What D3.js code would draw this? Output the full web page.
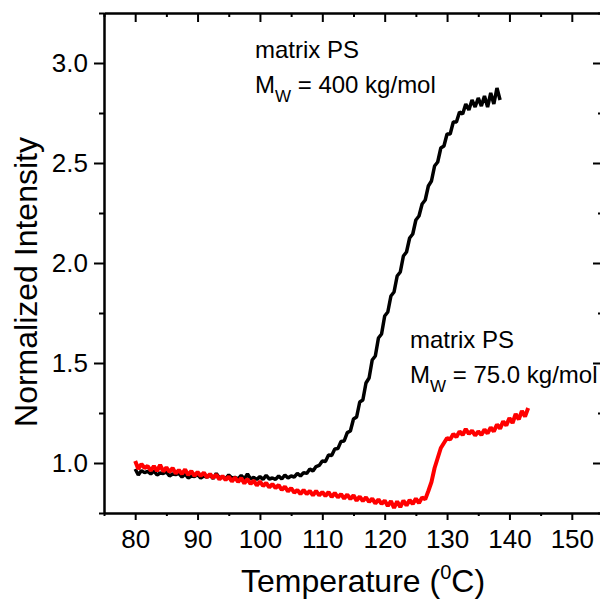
<!DOCTYPE html>
<html>
<head>
<meta charset="utf-8">
<script src="https://cdn.jsdelivr.net/npm/d3@7"></script>
<style>
  body { margin: 0; background: #fff; }
  svg text { font-family: "Liberation Sans", Arial, sans-serif; fill: #000; }
</style>
</head>
<body>
<div id="chart"></div>
<script>
// tick values
const xMajor = [80, 90, 100, 110, 120, 130, 140, 150];
const xMinor = [75, 85, 95, 105, 115, 125, 135, 145, 155];
const yMajor = [1.0, 1.5, 2.0, 2.5, 3.0];
const yMinor = [0.75, 1.25, 1.75, 2.25, 2.75, 3.25];

// matrix PS, Mw = 400 kg/mol  [temperature, normalized intensity]
const black400 = [
  [80,0.97],[80.5,0.94],[81,0.962],[81.5,0.952],[82,0.958],[82.5,0.945],[83,0.96],[83.5,0.94],
  [84,0.95],[84.5,0.948],[85,0.955],[85.5,0.935],[86,0.945],[86.5,0.942],[87,0.948],[87.5,0.93],
  [88,0.945],[88.5,0.925],[89,0.935],[89.5,0.932],[90,0.942],[90.5,0.925],[91,0.935],[91.5,0.93],
  [92,0.94],[92.5,0.922],[93,0.948],[93.5,0.925],[94,0.93],[94.5,0.922],[95,0.94],[95.5,0.925],
  [96,0.928],[96.5,0.92],[97,0.938],[97.5,0.92],[98,0.945],[98.5,0.92],[99,0.928],[99.5,0.918],
  [100,0.932],[100.5,0.918],[101,0.938],[101.5,0.92],[102,0.925],[102.5,0.918],[103,0.935],[103.5,0.92],
  [104,0.94],[104.5,0.925],[105,0.935],[105.5,0.93],[106,0.948],[106.5,0.935],[107,0.952],[107.5,0.948],
  [108,0.97],[108.5,0.96],[109,0.982],[109.5,0.988],[110,1.01],[110.5,1.008],[111,1.04],[111.5,1.038],
  [112,1.07],[112.5,1.072],[113,1.108],[113.5,1.11],[114,1.152],[114.5,1.16],[115,1.22],[115.5,1.23],
  [116,1.305],[116.5,1.315],[117,1.40],[117.5,1.425],[118,1.515],[118.5,1.535],[119,1.625],[119.5,1.645],
  [120,1.735],[120.5,1.755],[121,1.835],[121.5,1.855],[122,1.935],[122.5,1.955],[123,2.035],[123.5,2.055],
  [124,2.125],[124.5,2.145],[125,2.215],[125.5,2.235],[126,2.295],[126.5,2.315],[127,2.385],[127.5,2.41],
  [128,2.485],[128.5,2.505],[129,2.575],[129.5,2.585],[130,2.645],[130.5,2.645],[131,2.705],[131.5,2.705],
  [132,2.755],[132.5,2.745],[133,2.795],[133.5,2.765],[134,2.815],[134.5,2.78],[135,2.825],[135.5,2.785],
  [136,2.835],[136.5,2.78],[137,2.85],[137.5,2.795],[138,2.875],[138.5,2.815]
];

// matrix PS, Mw = 75.0 kg/mol
const red75 = [
  [80,1.01],[80.5,0.97],[81,0.995],[81.5,0.975],[82,0.985],[82.5,0.962],[83,0.985],[83.5,0.96],
  [84,0.99],[84.5,0.958],[85,0.978],[85.5,0.955],[86,0.975],[86.5,0.948],[87,0.965],[87.5,0.945],
  [88,0.968],[88.5,0.94],[89,0.96],[89.5,0.935],[90,0.955],[90.5,0.935],[91,0.952],[91.5,0.928],
  [92,0.945],[92.5,0.925],[93,0.942],[93.5,0.918],[94,0.935],[94.5,0.915],[95,0.932],[95.5,0.908],
  [96,0.928],[96.5,0.905],[97,0.925],[97.5,0.898],[98,0.92],[98.5,0.895],[99,0.912],[99.5,0.888],
  [100,0.908],[100.5,0.885],[101,0.9],[101.5,0.878],[102,0.895],[102.5,0.875],[103,0.89],[103.5,0.865],
  [104,0.882],[104.5,0.858],[105,0.875],[105.5,0.852],[106,0.865],[106.5,0.845],[107,0.865],[107.5,0.845],
  [108,0.86],[108.5,0.838],[109,0.86],[109.5,0.838],[110,0.855],[110.5,0.835],[111,0.855],[111.5,0.83],
  [112,0.85],[112.5,0.828],[113,0.845],[113.5,0.822],[114,0.842],[114.5,0.82],[115,0.838],[115.5,0.812],
  [116,0.832],[116.5,0.81],[117,0.828],[117.5,0.805],[118,0.822],[118.5,0.798],[119,0.818],[119.5,0.795],
  [120,0.812],[120.5,0.785],[121,0.81],[121.5,0.775],[122,0.808],[122.5,0.78],[123,0.812],[123.5,0.788],
  [124,0.815],[124.5,0.795],[125,0.822],[125.5,0.8],[126,0.828],[126.5,0.818],[127,0.86],[127.5,0.905],
  [128,0.975],[128.5,1.025],[129,1.075],[129.5,1.1],[130,1.125],[130.5,1.118],[131,1.145],[131.5,1.13],
  [132,1.158],[132.5,1.14],[133,1.17],[133.5,1.145],[134,1.162],[134.5,1.138],[135,1.158],[135.5,1.14],
  [136,1.168],[136.5,1.148],[137,1.178],[137.5,1.158],[138,1.192],[138.5,1.172],[139,1.208],[139.5,1.188],
  [140,1.225],[140.5,1.2],[141,1.245],[141.5,1.218],[142,1.26],[142.5,1.232],[143,1.275]
];

const width = 600, height = 601;

const x = d3.scaleLinear().domain([75, 155]).range([104, 603]);
const y = d3.scaleLinear().domain([0.75, 3.25]).range([513, 13]);

const svg = d3.select("#chart")
  .append("svg")
  .attr("width", width)
  .attr("height", height);

const line = d3.line()
  .x(d => x(d[0]))
  .y(d => y(d[1]));

svg.append("path")
  .datum(black400)
  .attr("fill", "none")
  .attr("stroke", "#000")
  .attr("stroke-width", 3.5)
  .attr("stroke-linejoin", "bevel")
  .attr("d", line);

svg.append("path")
  .datum(red75)
  .attr("fill", "none")
  .attr("stroke", "#ff0000")
  .attr("stroke-width", 4)
  .attr("stroke-linejoin", "bevel")
  .attr("d", line);

function styleAxis(g) {
  g.selectAll("path").attr("stroke", "#000").attr("stroke-width", 2);
  g.selectAll("line").attr("stroke", "#000").attr("stroke-width", 2);
}

// bottom
svg.append("g")
  .attr("transform", "translate(0,513)")
  .call(d3.axisBottom(x).tickValues(xMajor).tickSize(7).tickSizeOuter(0).tickPadding(10)
    .tickFormat(d3.format("d")))
  .call(styleAxis)
  .call(g => g.selectAll("text").attr("font-size", 26));
svg.append("g")
  .attr("transform", "translate(0,513)")
  .call(d3.axisBottom(x).tickValues(xMinor).tickSize(3).tickSizeOuter(0).tickFormat(""))
  .call(styleAxis);

// top
svg.append("g")
  .attr("transform", "translate(0,13)")
  .call(d3.axisTop(x).tickValues(xMajor).tickSize(-9).tickSizeOuter(0).tickFormat(""))
  .call(styleAxis);
svg.append("g")
  .attr("transform", "translate(0,13)")
  .call(d3.axisTop(x).tickValues(xMinor).tickSize(-4).tickSizeOuter(0).tickFormat(""))
  .call(styleAxis);

// left
svg.append("g")
  .attr("transform", "translate(104,0)")
  .call(d3.axisLeft(y).tickValues(yMajor).tickSize(10).tickSizeOuter(0).tickPadding(6)
    .tickFormat(d3.format(".1f")))
  .call(styleAxis)
  .call(g => g.selectAll("text").attr("font-size", 26));
svg.append("g")
  .attr("transform", "translate(104,0)")
  .call(d3.axisLeft(y).tickValues(yMinor).tickSize(5).tickSizeOuter(0).tickFormat(""))
  .call(styleAxis);

// right
svg.append("g")
  .attr("transform", "translate(603,0)")
  .call(d3.axisRight(y).tickValues(yMajor).tickSize(-10).tickSizeOuter(0).tickFormat(""))
  .call(styleAxis);
svg.append("g")
  .attr("transform", "translate(603,0)")
  .call(d3.axisRight(y).tickValues(yMinor).tickSize(-5).tickSizeOuter(0).tickFormat(""))
  .call(styleAxis);

// axis titles
svg.append("text")
  .attr("transform", "translate(37,282) rotate(-90)")
  .attr("text-anchor", "middle")
  .attr("font-size", 32)
  .text("Normalized Intensity");

const xt = svg.append("text")
  .attr("x", 363)
  .attr("y", 592)
  .attr("text-anchor", "middle")
  .attr("font-size", 32);
xt.append("tspan").text("Temperature (");
xt.append("tspan").attr("font-size", 20).attr("dy", -13).text("0");
xt.append("tspan").attr("dy", 13).text("C)");

// annotations
function annotate(x0, y0, mw) {
  svg.append("text")
    .attr("x", x0).attr("y", y0)
    .attr("font-size", 24)
    .text("matrix PS");
  const t = svg.append("text")
    .attr("x", x0).attr("y", y0 + 35)
    .attr("font-size", 24);
  t.append("tspan").text("M");
  t.append("tspan").attr("font-size", 17).attr("dy", 9).text("W");
  t.append("tspan").attr("dy", -9).text(" = " + mw + " kg/mol");
}
annotate(255, 58, "400");
annotate(410, 348, "75.0");
</script>
</body>
</html>
